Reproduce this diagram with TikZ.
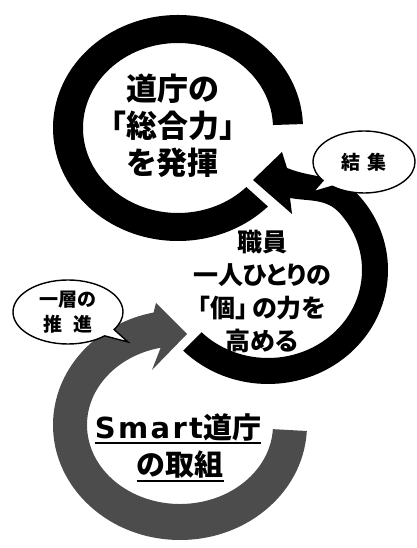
\documentclass[tikz,border=0pt]{standalone}
\usepackage{fontspec}
\usetikzlibrary{shapes.callouts}
\newfontfamily\jpfont{Noto Sans CJK JP}[RawFeature={+palt}]
\newfontfamily\smartfont{DejaVu Sans}[LetterSpace=8]
\begin{document}
\begin{tikzpicture}[x=1pt, y=1pt,
  bubble/.style={ellipse callout, draw=black, fill=white, line width=1.4pt,
    inner sep=0pt, font=\jpfont\bfseries\fontsize{19}{25}\selectfont},
  bigtext/.style={align=center, inner sep=0pt,
    font=\jpfont\bfseries\fontsize{31}{37}\selectfont},
  midtext/.style={align=center, inner sep=0pt,
    font=\jpfont\bfseries\fontsize{25}{33}\selectfont},
  smarttext/.style={inner sep=0pt,
    font=\jpfont\bfseries\fontsize{29}{35}\selectfont},
  uline/.style={line width=2pt}]
\definecolor{ringgray}{gray}{0.3}
\useasboundingbox (0,0) rectangle (417,548);

\fill[black, shift={(178,420)}]
  (2:125 and 113) arc[start angle=2, end angle=316, x radius=125, y radius=113]
  -- (316:95 and 85) arc[start angle=316, end angle=2, x radius=95, y radius=85]
  -- cycle;

\fill[black, shift={(268,278)}]
  (225:120 and 114) arc[start angle=225, end angle=400, x radius=120, y radius=114]
  to[out=131, in=-22] (19,102) -- (14,118) -- (-15,90) -- (24,56) -- (22,72)
  to[out=-10, in=132] (40:94 and 88)
  arc[start angle=40, end angle=-135, x radius=94, y radius=88]
  -- cycle;

\fill[ringgray, shift={(180,123)}]
  (-3:127 and 115) arc[start angle=-3, end angle=-258, x radius=127, y radius=115]
  -- (-24,122) -- (7,91) -- (-28,55)
  -- (-258:93 and 79) arc[start angle=-258, end angle=-3, x radius=93, y radius=79]
  -- cycle;

\node[bubble, minimum width=102pt, minimum height=62pt,
  callout absolute pointer={(313,356)}] (kesshu) at (364,386) {結\hspace{0.35em}集};
\node[bubble, minimum width=110pt, minimum height=64pt, align=center,
  callout absolute pointer={(128,206)}] (suishin) at (68,236)
  {一層の\\推\hspace{0.6em}進};

\node[bigtext] (sogo) at (173,422) {道庁の\\「総合力」\\を発揮};
\node[midtext] (shokuin) at (262,256) {職員\\一人ひとりの\\「個」\,の力を\\高める};

\node[smarttext] (smartA) at (178,121) {{\smartfont\bfseries Smart}道庁};
\node[smarttext] (smartB) at (180,83) {の取組};
\draw[uline] ([yshift=-5pt]smartA.base west) -- ([yshift=-5pt]smartA.base east);
\draw[uline] ([yshift=-5pt]smartB.base west) -- ([yshift=-5pt]smartB.base east);
\end{tikzpicture}
\end{document}
